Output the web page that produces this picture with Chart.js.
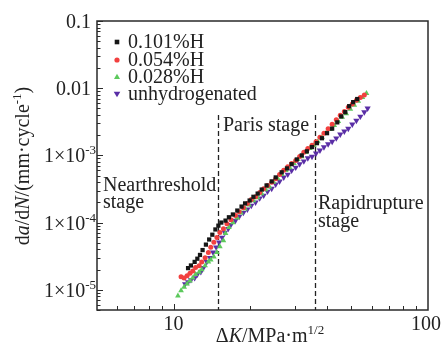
<!DOCTYPE html>
<html><head><meta charset="utf-8">
<script src="https://cdn.jsdelivr.net/npm/chart.js@4.4.1/dist/chart.umd.min.js"></script>
<style>html,body{margin:0;padding:0;background:#fff;overflow:hidden}#c{display:block}</style>
</head><body>
<canvas id="c" width="442" height="346"></canvas>
<script>
// ---- data ----
const seriesNames = ['0.101%H', '0.054%H', '0.028%H', 'unhydrogenated'];

const dK_101 = [11.4,11.7,12.1,12.4,12.7,13.0,13.4,13.8,14.2,14.6,15.0,15.4,16.0,16.5,17.1,17.8,18.5,19.1,19.9,20.6,21.4,22.2,23.2,24.3,25.2,26.6,27.9,29.1,30.5,31.9,33.4,35.0,36.6,38.3,40.1,42.0,44.0,45.6,47.3,49.0,50.8,52.7];
const rate_101 = [2.1e-5,2.3e-5,2.6e-5,2.9e-5,3.3e-5,3.9e-5,4.7e-5,5.6e-5,6.6e-5,7.9e-5,9.0e-5,1.0e-4,1.07e-4,1.2e-4,1.32e-4,1.51e-4,1.73e-4,1.93e-4,2.13e-4,2.42e-4,2.7e-4,3.1e-4,3.57e-4,4.1e-4,4.7e-4,5.6e-4,6.4e-4,7.4e-4,8.7e-4,1.0e-3,1.15e-3,1.33e-3,1.52e-3,1.8e-3,2.14e-3,2.5e-3,3.1e-3,3.8e-3,4.4e-3,5.4e-3,6.2e-3,6.9e-3];

const dK_054 = [10.7,11.0,11.3,11.6,11.9,12.2,12.6,12.9,13.3,13.7,14.0,14.4,14.8,15.2,15.7,16.2,16.8,17.5,18.1,18.8,19.5,20.2,21.0,21.8,22.6,23.4,24.3,25.2,26.1,27.1,28.1,29.1,30.2,31.3,32.5,33.7,35.0,36.3,37.6,39.0,40.5,42.0,43.6,45.2,46.9,48.6,50.4,52.3,54.2,56.2];
const rate_054 = [1.56e-5,1.5e-5,1.62e-5,1.76e-5,1.9e-5,2.14e-5,2.28e-5,2.6e-5,3.0e-5,3.6e-5,4.3e-5,5.1e-5,6.0e-5,7.1e-5,8.1e-5,9.6e-5,1.1e-4,1.27e-4,1.45e-4,1.66e-4,1.93e-4,2.2e-4,2.42e-4,2.8e-4,3.2e-4,3.57e-4,4.0e-4,4.5e-4,5.2e-4,6.0e-4,6.8e-4,7.6e-4,8.4e-4,9.6e-4,1.11e-3,1.27e-3,1.41e-3,1.6e-3,1.86e-3,2.14e-3,2.5e-3,2.9e-3,3.4e-3,3.95e-3,4.5e-3,5.2e-3,5.8e-3,6.6e-3,7.3e-3,7.9e-3];

const dK_028 = [10.4,10.7,11.0,11.3,11.6,11.9,12.2,12.6,12.9,13.3,13.7,14.0,14.4,14.8,15.2,15.7,16.0,16.5,17.1,17.8,18.4,19.1,19.8,20.6,21.4,22.2,23.0,23.8,24.7,25.7,26.6,27.6,28.6,29.7,30.8,31.9,33.1,34.3,35.6,36.9,38.3,39.7,41.2,42.8,44.4,46.0,47.7,49.5,51.3,53.2,55.2,57.3];
const rate_028 = [8.1e-6,9.7e-6,1.1e-5,1.22e-5,1.36e-5,1.5e-5,1.7e-5,1.84e-5,2.0e-5,2.28e-5,2.6e-5,2.8e-5,3.1e-5,3.6e-5,4.4e-5,5.4e-5,6.9e-5,8.5e-5,1.0e-4,1.18e-4,1.4e-4,1.6e-4,1.84e-4,2.13e-4,2.36e-4,2.7e-4,3.1e-4,3.4e-4,4.0e-4,4.5e-4,5.2e-4,6.0e-4,6.6e-4,7.6e-4,8.7e-4,9.6e-4,1.11e-3,1.27e-3,1.41e-3,1.6e-3,1.86e-3,2.14e-3,2.45e-3,2.8e-3,3.2e-3,3.7e-3,4.2e-3,4.9e-3,5.6e-3,6.4e-3,7.3e-3,8.4e-3];

const dK_unh = [11.1,11.4,11.7,12.1,12.4,12.8,13.1,13.5,13.9,14.3,14.7,15.1,15.5,15.9,16.4,16.8,17.5,18.1,18.8,19.5,20.2,21.0,21.8,22.6,23.4,24.3,25.2,26.1,27.1,28.1,29.1,30.2,31.3,32.5,33.7,35.0,36.3,37.6,39.0,40.5,42.0,43.6,45.2,46.9,48.6,50.4,52.3,54.2,56.2,57.9];
const rate_unh = [1.22e-5,1.3e-5,1.4e-5,1.5e-5,1.7e-5,1.84e-5,2.13e-5,2.6e-5,3.0e-5,3.6e-5,4.3e-5,5.1e-5,6.0e-5,7.1e-5,8.1e-5,9.3e-5,1.07e-4,1.23e-4,1.4e-4,1.57e-4,1.79e-4,2.0e-4,2.3e-4,2.53e-4,2.9e-4,3.2e-4,3.7e-4,4.1e-4,4.7e-4,5.2e-4,5.97e-4,6.6e-4,7.4e-4,8.2e-4,9.1e-4,9.6e-4,1.07e-3,1.19e-3,1.33e-3,1.47e-3,1.6e-3,1.8e-3,2.06e-3,2.28e-3,2.5e-3,2.9e-3,3.3e-3,3.8e-3,4.4e-3,5.0e-3];

const xTickLabels = [[10, '10'], [100, '100']];
const yTickLabels = [[0.1, '0.1', ''], [0.01, '0.01', ''], [1e-3, '1×10', '-3'], [1e-4, '1×10', '-4'], [1e-5, '1×10', '-5']];
const stageBounds = [15, 36];
const stageLineTop = 4e-3;

// ---- styles ----
const colors = ['#161616', '#f2403f', '#5cc95c', '#5a2ea6'];
const styles = ['rect', 'circle', 'triangle', 'triangle'];
const rotations = [0, 0, 0, 180];
const radii = [3.0, 2.5, 3.3, 3.6];
const FONT = '"Liberation Serif","Times New Roman",serif';
const TXT = '#222';

function zip(a, b) { return a.map((v, i) => ({x: v, y: b[i]})); }
const allK = [dK_101, dK_054, dK_028, dK_unh];
const allR = [rate_101, rate_054, rate_028, rate_unh];

const datasets = seriesNames.map((n, i) => ({
  label: n,
  data: zip(allK[i], allR[i]),
  pointStyle: styles[i],
  rotation: rotations[i],
  pointRadius: radii[i],
  pointBackgroundColor: colors[i],
  pointBorderColor: colors[i],
  pointBorderWidth: 0,
  showLine: false
}));

function fontFor(p, size) {
  const s = p.sup ? 13 : (size || 20);
  return (p.it ? 'italic ' : '') + s + 'px ' + FONT;
}
function drawRich(ctx, parts, x, y, align, size) {
  const w = parts.map(p => { ctx.font = fontFor(p, size); return ctx.measureText(p.t).width; });
  const total = w.reduce((a, b) => a + b, 0);
  let cx = align === 'center' ? x - total / 2 : align === 'right' ? x - total : x;
  ctx.textAlign = 'left';
  ctx.textBaseline = 'alphabetic';
  parts.forEach((p, i) => {
    ctx.font = fontFor(p, size);
    ctx.fillText(p.t, cx, y - (p.sup ? 8 : 0));
    cx += w[i];
  });
}
function legendMarker(ctx, i, x, y) {
  ctx.fillStyle = colors[i];
  ctx.beginPath();
  if (i === 0) { ctx.rect(x - 2.3, y - 2.3, 4.6, 4.6); }
  else if (i === 1) { ctx.arc(x, y, 2.6, 0, Math.PI * 2); }
  else if (i === 2) { ctx.moveTo(x, y - 3.2); ctx.lineTo(x + 3, y + 2); ctx.lineTo(x - 3, y + 2); ctx.closePath(); }
  else { ctx.moveTo(x, y + 3.2); ctx.lineTo(x + 3.3, y - 2.2); ctx.lineTo(x - 3.3, y - 2.2); ctx.closePath(); }
  ctx.fill();
}

const decor = {
  id: 'decor',
  beforeDatasetsDraw(chart) {
    const {ctx, chartArea: a, scales: {x, y}} = chart;
    ctx.save();
    ctx.strokeStyle = '#222';
    ctx.lineWidth = 1.3;
    ctx.setLineDash([5, 3]);
    stageBounds.forEach(v => {
      const px = Math.round(x.getPixelForValue(v)) + 0.5;
      ctx.beginPath();
      ctx.moveTo(px, y.getPixelForValue(stageLineTop));
      ctx.lineTo(px, a.bottom);
      ctx.stroke();
    });
    ctx.restore();
  },
  afterDraw(chart) {
    const {ctx, chartArea: a, scales: {x, y}} = chart;
    ctx.save();
    // frame
    ctx.strokeStyle = '#2a2a2a';
    ctx.lineWidth = 1.5;
    ctx.strokeRect(a.left, a.top, a.right - a.left, a.bottom - a.top);
    // y ticks (inward)
    ctx.lineWidth = 1;
    ctx.strokeStyle = '#2a2a2a';
    for (let e = -6; e <= -1; e++) {
      for (let m = 1; m <= 9; m++) {
        const v = m * Math.pow(10, e);
        if (v < y.min * 0.999 || v > y.max * 1.001) continue;
        const py = Math.round(y.getPixelForValue(v)) + 0.5;
        ctx.beginPath();
        ctx.moveTo(a.left, py);
        ctx.lineTo(a.left + (m === 1 ? 6 : 3.5), py);
        ctx.stroke();
      }
    }
    // x ticks (inward)
    for (let e = 0; e <= 2; e++) {
      for (let m = 1; m <= 9; m++) {
        const v = m * Math.pow(10, e);
        if (v <= x.min * 1.001 || v >= x.max * 0.999) continue;
        const px = Math.round(x.getPixelForValue(v)) + 0.5;
        ctx.beginPath();
        ctx.moveTo(px, a.bottom);
        ctx.lineTo(px, a.bottom - (m === 1 ? 6 : 4));
        ctx.stroke();
      }
    }
    ctx.fillStyle = TXT;
    // y tick labels
    yTickLabels.forEach(([v, main, sup]) => {
      const py = y.getPixelForValue(v);
      const parts = [{t: main}];
      if (sup) parts.push({t: sup, sup: true});
      drawRich(ctx, parts, sup ? 96 : 91, py + 7, 'right');
    });
    // x tick labels
    xTickLabels.forEach(([v, t]) => {
      let px = x.getPixelForValue(v);
      if (v === 100) px -= 2;
      drawRich(ctx, [{t}], px, 330, 'center');
    });
    // x title
    drawRich(ctx, [{t: 'Δ'}, {t: 'K', it: true}, {t: '/MPa·m'}, {t: '1/2', sup: true}], 270, 342, 'center');
    // y title
    ctx.save();
    ctx.translate(29, 166);
    ctx.rotate(-Math.PI / 2);
    drawRich(ctx, [{t: 'd'}, {t: 'a', it: true}, {t: '/d'}, {t: 'N', it: true}, {t: '/(mm·cycle'}, {t: '-1', sup: true}, {t: ')'}], 0, 0, 'center');
    ctx.restore();
    // legend
    const rows = [48, 66, 83, 100];
    seriesNames.forEach((n, i) => {
      legendMarker(ctx, i, 117, rows[i] - 6);
      ctx.fillStyle = TXT;
      drawRich(ctx, [{t: n}], 128, rows[i], 'left');
    });
    // stage annotations
    drawRich(ctx, [{t: 'Nearthreshold'}], 103, 191, 'left');
    drawRich(ctx, [{t: 'stage'}], 103, 208, 'left');
    drawRich(ctx, [{t: 'Paris stage'}], 223, 131, 'left');
    drawRich(ctx, [{t: 'Rapidrupture'}], 318, 209, 'left');
    drawRich(ctx, [{t: 'stage'}], 318, 227, 'left');
    ctx.restore();
  }
};

new Chart(document.getElementById('c'), {
  type: 'scatter',
  data: {datasets},
  options: {
    responsive: false,
    animation: false,
    devicePixelRatio: 1,
    layout: {padding: {left: 97, right: 14, top: 21, bottom: 36}},
    plugins: {legend: {display: false}, tooltip: {enabled: false}},
    scales: {
      x: {type: 'logarithmic', min: 5, max: 100, display: false},
      y: {type: 'logarithmic', min: 5e-6, max: 0.1, display: false}
    }
  },
  plugins: [decor]
});
</script>
</body></html>
